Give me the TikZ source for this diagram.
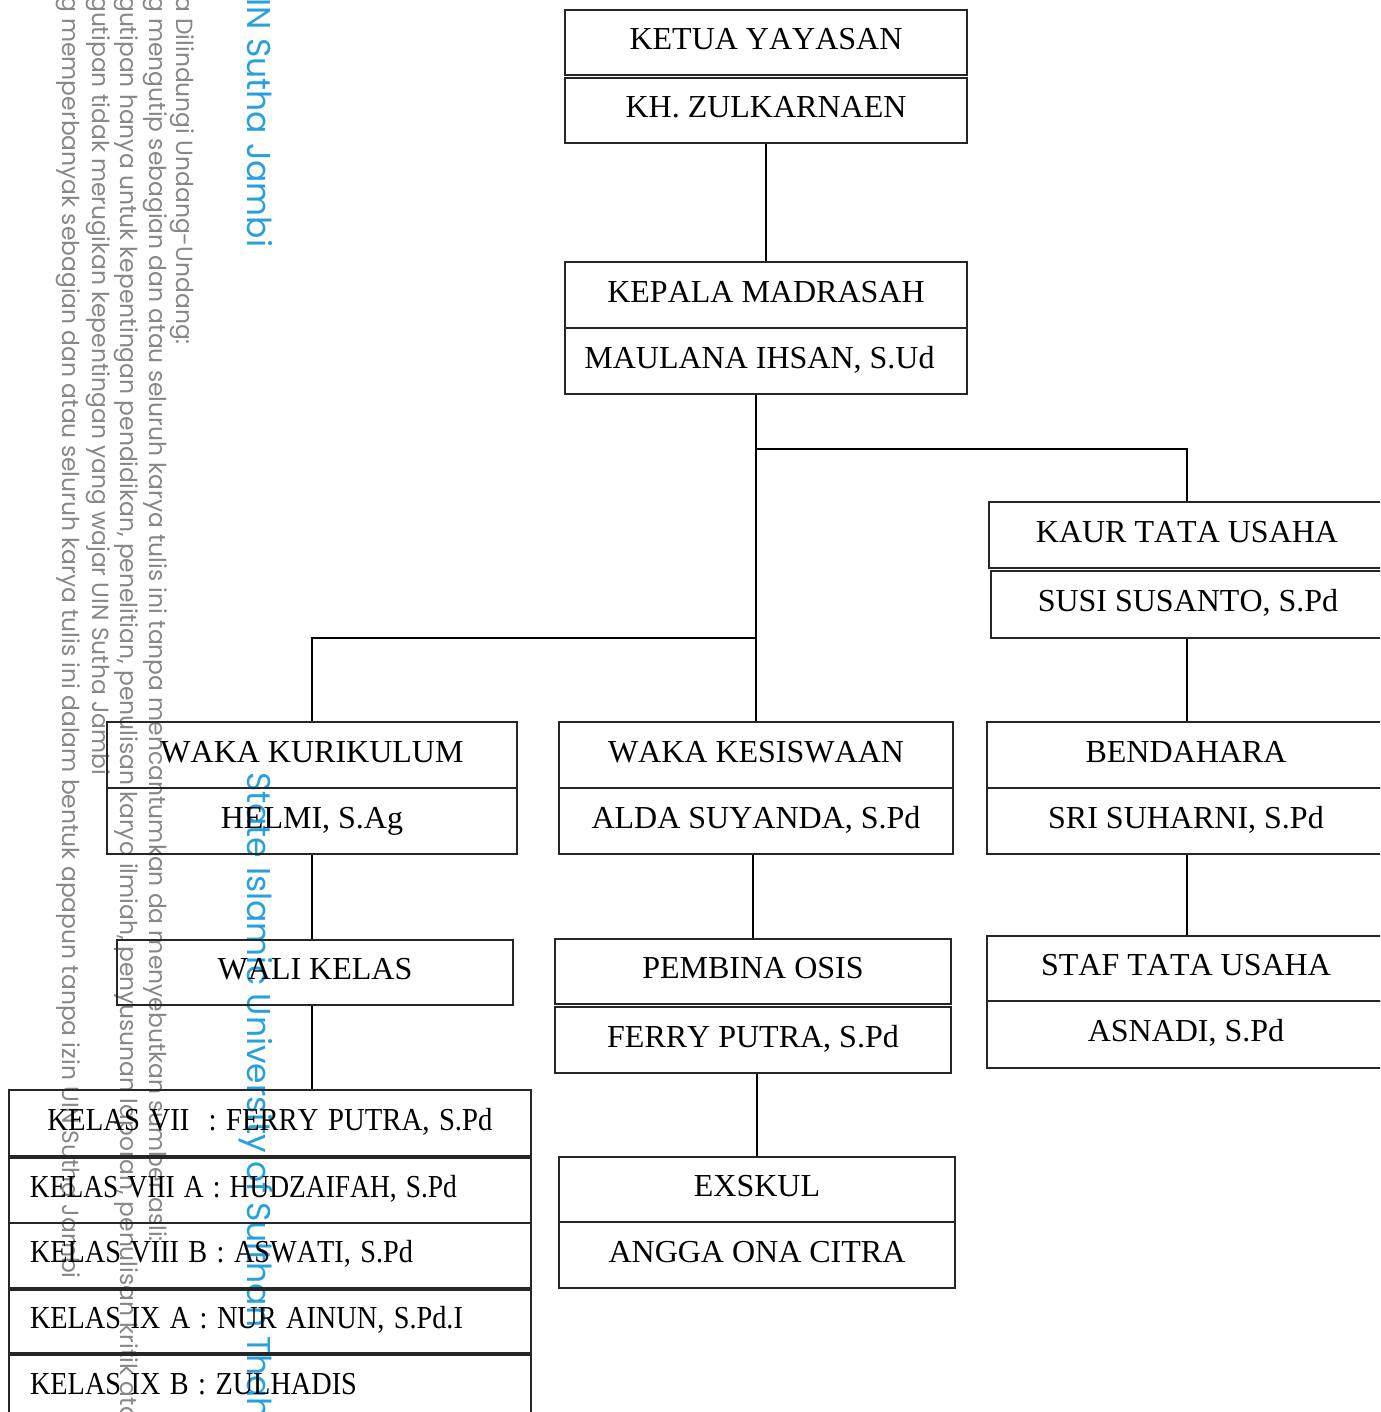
\documentclass[tikz,border=0pt]{standalone}
\usepackage{fontspec}
\setmainfont{Liberation Serif}[Kerning=Off]
\newfontfamily\wmfont{Poppins}
\usepackage{tikz}
\usetikzlibrary{positioning,calc}
\definecolor{wmgray}{RGB}{135,135,135}
\definecolor{wmcyan}{RGB}{40,160,220}
% squeeze a class row to the width it has in the chart
\newcommand\rowfit[2]{\resizebox{#1}{\height}{#2}}

\begin{document}
\begin{tikzpicture}[x=1pt,y=-1pt,
    unit/.style={draw=black!85,line width=1.2pt,inner sep=0pt,minimum height=65pt,
        text height=21pt,text depth=7pt,font=\fontsize{32}{38}\selectfont},
    kelasrow/.style={unit,minimum width=0pt,text width=480pt,inner xsep=21pt,align=left},
    link/.style={line width=1.6pt},
    wmline/.style={rotate=-90,anchor=base west,inner sep=0pt,text=wmgray,
        font=\wmfont\fontsize{23.4}{26}\selectfont},
    wmbrand/.style={wmline,text=wmcyan,font=\wmfont\fontsize{33}{38}\selectfont}]
    \useasboundingbox (0,0) rectangle (1380,1412);
    \clip (0,0) rectangle (1380,1412);

    % watermark of the scan
    \node[wmline] (wm1) at (176,-4) {a Dilindungi Undang-Undang:};
    \node[wmline] (wm2) at (149,-4) {g mengutip sebagian dan atau seluruh karya tulis ini tanpa mencantumkan da menyebutkan sumber asli:};
    \node[wmline] (wm3) at (120,-4) {gutipan hanya untuk kepentingan pendidikan, penelitian, penulisan karya ilmiah, penyusunan laporan, penulisan kritik ata};
    \node[wmline] (wm4) at (92,-4) {gutipan tidak merugikan kepentingan yang wajar UIN Sutha Jambi};
    \node[wmline] (wm5) at (62,-4) {g memperbanyak sebagian dan atau seluruh karya tulis ini dalam bentuk apapun tanpa izin UIN Sutha Jambi};
    \node[wmbrand] (wm6) at (247,-2) {IN Sutha Jambi};
    \node[wmbrand] (wm7) at (247,772) {State Islamic University of Sulthan Thaha};

    % Yayasan and kepala
    \node[unit,minimum width=402pt] (ketua) at (766,42.5) {KETUA YAYASAN};
    \node[unit,minimum width=402pt] (zulkarnaen) at (766,110.5) {KH. ZULKARNAEN};
    \node[unit,minimum width=402pt,minimum height=66pt] (kepala) at (766,295) {KEPALA MADRASAH};
    \node[unit,minimum width=402pt,minimum height=66pt] (maulana) at (766,361) {MAULANA IHSAN, S.Ud\kern13pt};

    % tata usaha
    \node[unit,minimum width=396pt,minimum height=66pt] (kaur) at (1187,535) {KAUR TATA USAHA};
    \node[unit,minimum width=394pt,minimum height=67pt] (susi) at (1188,604.5) {SUSI SUSANTO, S.Pd};

    % wakil kepala and bendahara
    \node[unit,minimum width=410pt,minimum height=66pt] (kurikulum) at (312,755) {WAKA KURIKULUM};
    \node[unit,minimum width=410pt,minimum height=66pt] (helmi) at (312,821) {HELMI, S.Ag};
    \node[unit,minimum width=394pt,minimum height=66pt] (kesiswaan) at (756,755) {WAKA KESISWAAN};
    \node[unit,minimum width=394pt,minimum height=66pt] (alda) at (756,821) {ALDA SUYANDA, S.Pd};
    \node[unit,minimum width=398pt,minimum height=66pt] (bendahara) at (1186,755) {BENDAHARA};
    \node[unit,minimum width=398pt,minimum height=66pt] (sri) at (1186,821) {SRI SUHARNI, S.Pd};

    % third row
    \node[unit,minimum width=396pt] (wali) at (315,972.5) {WALI KELAS};
    \node[unit,minimum width=396pt] (pembina) at (753,971.5) {PEMBINA OSIS};
    \node[unit,minimum width=396pt,minimum height=66pt] (ferry) at (753,1040) {FERRY PUTRA, S.Pd};
    \node[unit,minimum width=398pt] (staf) at (1186,968.5) {STAF TATA USAHA};
    \node[unit,minimum width=398pt,minimum height=67pt] (asnadi) at (1186,1034.5) {ASNADI, S.Pd};

    % exskul
    \node[unit,minimum width=396pt] (exskul) at (757,1189.5) {EXSKUL};
    \node[unit,minimum width=396pt,minimum height=66pt] (angga) at (757,1255) {ANGGA ONA CITRA};

    % wali kelas list
    \node[kelasrow,align=center,minimum height=66pt] (k7) at (270,1123) {\rowfit{445pt}{KELAS VII\ \ : FERRY PUTRA, S.Pd}};
    \node[kelasrow] (k8a) at (270,1190.5) {\rowfit{427pt}{KELAS VIII A : HUDZAIFAH, S.Pd}};
    \node[kelasrow] (k8b) at (270,1255.5) {\rowfit{383pt}{KELAS VIII B : ASWATI, S.Pd}};
    \node[kelasrow,minimum height=63pt] (k9a) at (270,1321.5) {\rowfit{433pt}{KELAS IX A : NUR AINUN, S.Pd.I}};
    \node[kelasrow] (k9b) at (270,1387.5) {\rowfit{327pt}{KELAS IX B : ZULHADIS}};

    % connectors
    \draw[link] (zulkarnaen.south) -- (kepala.north);
    \draw[link] (maulana.south -| kesiswaan.north) -- (kesiswaan.north);
    \coordinate (tujoint) at (kesiswaan.north |- 0,449);
    \coordinate (kurjoint) at (kesiswaan.north |- 0,638);
    \draw[link] (tujoint) -| (kaur.north);
    \draw[link] (kurjoint) -| (kurikulum.north);
    \draw[link] (susi.south -| kaur.north) -- (bendahara.north -| kaur.north);
    \draw[link] (helmi.south) -- (helmi.south |- wali.north);
    \draw[link] (wali.south -| helmi.south) -- (k7.north -| helmi.south);
    \draw[link] (alda.south -| pembina.north) -- (pembina.north);
    \draw[link] (ferry.south -| exskul.north) -- (exskul.north);
    \draw[link] (sri.south -| kaur.north) -- (staf.north -| kaur.north);
\end{tikzpicture}
\end{document}
